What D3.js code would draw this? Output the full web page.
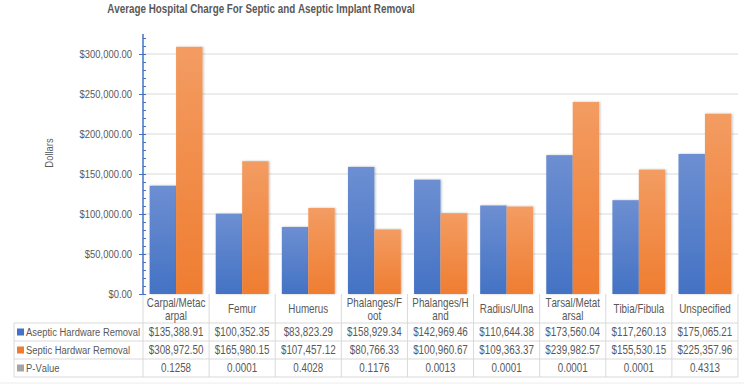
<!DOCTYPE html>
<html lang="en">
<head>
    <meta charset="UTF-8">
    <title>Average Hospital Charge</title>
    <script src="https://d3js.org/d3.v7.min.js"></script>
    <style>
        body { margin: 0; background: #fff; }
        text {
            font-family: "Liberation Sans", Arial, sans-serif;
            font-kerning: none;
            fill: #595959;
        }
    </style>
</head>
<body>
<script>
    const width = 744;
    const height = 385;

    const categories = ["Carpal/Metacarpal", "Femur", "Humerus", "Phalanges/Foot", "Phalanges/Hand",
        "Radius/Ulna", "Tarsal/Metatarsal", "Tibia/Fibula", "Unspecified"];
    const aseptic = [135388.91, 100352.35, 83823.29, 158929.34, 142969.46, 110644.38, 173560.04, 117260.13, 175065.21];
    const septic = [308972.50, 165980.15, 107457.12, 80766.33, 100960.67, 109363.37, 239982.57, 155530.15, 225357.96];
    const pValues = ["0.1258", "0.0001", "0.4028", "0.1176", "0.0013", "0.0001", "0.0001", "0.0001", "0.4313"];
    const seriesNames = ["Aseptic Hardware Removal", "Septic Hardwar Removal", "P-Value"];
    const yTicks = [0, 50000, 100000, 150000, 200000, 250000, 300000];

    const colors = ["#4472c4", "#ed7d31", "#a5a5a5"];
    const money = d3.format("$,.2f");
    const squeeze = 0.82;   // imitate a narrow face with the regular one

    // squeeze each text horizontally about its anchor so it reads like Arial Narrow
    function narrow(sel) {
        sel.each(function() {
            const t = d3.select(this);
            const ax = +t.attr("x") || 0;
            const tr = t.attr("transform") || "";
            t.attr("transform", `${tr} translate(${ax},0) scale(${squeeze},1) translate(${-ax},0)`);
        });
    }

    const svg = d3.select("body").append("svg")
            .attr("width", width).attr("height", height);

    const defs = svg.append("defs");
    [["gBlue", "#6d8fd2", "#4472c4"], ["gOrange", "#f39c62", "#ef7d31"]].forEach(([id, c1, c2]) => {
        const g = defs.append("linearGradient").attr("id", id)
                .attr("x1", 0).attr("y1", 0).attr("x2", 0).attr("y2", 1);
        g.append("stop").attr("offset", "0%").attr("stop-color", c1);
        g.append("stop").attr("offset", "100%").attr("stop-color", c2);
    });
    defs.append("filter").attr("id", "shadow")
            .attr("x", "-20%").attr("y", "-5%").attr("width", "140%").attr("height", "110%")
            .append("feDropShadow")
            .attr("dx", 1).attr("dy", 0).attr("stdDeviation", 1)
            .attr("flood-color", "#000").attr("flood-opacity", 0.25);

    const plotLeft = 143, plotRight = 738, plotTop = 34, plotBottom = 294;
    const tableLeft = 14;
    const rowY = [323, 341, 359, 377];

    const x = d3.scaleBand().domain(categories).range([plotLeft, plotRight]).paddingInner(0.2).paddingOuter(0.1);
    const xs = d3.scaleBand().domain([0, 1]).range([0, x.bandwidth()]);
    const y = d3.scaleLinear().domain([0, 325000]).range([plotBottom, plotTop]);

    // title
    svg.append("text")
            .attr("x", 261).attr("y", 13)
            .attr("text-anchor", "middle")
            .style("font-size", "12px").style("font-weight", "bold")
            .text("Average Hospital Charge For Septic and Aseptic Implant Removal")
            .call(narrow);

    // gridlines
    svg.append("g").selectAll("line")
            .data(yTicks.filter(d => d > 0))
            .enter().append("line")
            .attr("x1", plotLeft).attr("x2", plotRight)
            .attr("y1", d => y(d)).attr("y2", d => y(d))
            .style("stroke", "#d9d9d9").style("stroke-width", 1);

    // bars
    const groups = svg.append("g").selectAll("g")
            .data(categories)
            .enter().append("g")
            .attr("transform", d => `translate(${x(d)},0)`);
    groups.selectAll("rect")
            .data((d, i) => [aseptic[i], septic[i]])
            .enter().append("rect")
            .attr("x", (d, j) => xs(j))
            .attr("width", xs.bandwidth())
            .attr("y", d => y(d))
            .attr("height", d => y(0) - y(d))
            .attr("fill", (d, j) => j === 0 ? "url(#gBlue)" : "url(#gOrange)")
            .attr("filter", "url(#shadow)");

    // y axis: minor ticks inside, major ticks outside
    const yAxis = svg.append("g").attr("transform", `translate(${plotLeft},0)`);
    yAxis.call(d3.axisRight(y).tickValues(d3.range(0, 330000, 10000)).tickSize(3).tickFormat(""));
    yAxis.call(g => g.select(".domain").remove());
    yAxis.selectAll(".tick line").style("stroke", "#4472c4");
    yAxis.append("g").call(d3.axisLeft(y).tickValues(yTicks).tickSize(4).tickFormat("").tickSizeOuter(0))
            .call(g => g.select(".domain").remove())
            .selectAll(".tick line").style("stroke", "#4472c4");
    yAxis.append("line").attr("y1", plotTop).attr("y2", plotBottom + 0.5)
            .style("stroke", "#4472c4").style("stroke-width", 1.5);
    svg.append("g").selectAll("text")
            .data(yTicks)
            .enter().append("text")
            .attr("x", 132).attr("y", d => y(d)).attr("dy", "0.35em")
            .attr("text-anchor", "end")
            .style("font-size", "11.5px")
            .text(d => money(d))
            .call(narrow);

    svg.append("text")
            .attr("transform", `translate(53,153) rotate(-90)`)
            .attr("text-anchor", "middle")
            .style("font-size", "11.5px")
            .text("Dollars")
            .call(narrow);

    // data table
    const grid = svg.append("g").style("stroke", "#d9d9d9").style("stroke-width", 1);
    const step = x.step();
    const colEdges = d3.range(categories.length + 1).map(i => plotLeft + i * step);
    colEdges.forEach((cx, i) => {
        grid.append("line").attr("x1", cx).attr("x2", cx)
                .attr("y1", i === 0 ? plotBottom + 1 : plotBottom).attr("y2", rowY[3]);
    });
    grid.append("line").attr("x1", tableLeft).attr("x2", tableLeft).attr("y1", rowY[0]).attr("y2", rowY[3]);
    rowY.forEach(ry => {
        grid.append("line").attr("x1", tableLeft).attr("x2", plotRight).attr("y1", ry).attr("y2", ry);
    });
    svg.append("line").attr("x1", 0).attr("x2", width).attr("y1", 383).attr("y2", 383)
            .style("stroke", "#ececec");

    // category labels, wrapped to the column width
    const catG = svg.append("g");
    categories.forEach((d, i) => {
        const cx = colEdges[i] + step / 2;
        const maxW = step - 6.8;
        const probe = catG.append("text").style("font-size", "12px");
        const lines = [];
        let cur = "";
        for (const ch of d) {
            probe.text(cur + ch);
            if (probe.node().getComputedTextLength() * squeeze > maxW && cur) {
                lines.push(cur);
                cur = ch;
            } else {
                cur += ch;
            }
        }
        lines.push(cur);
        probe.remove();
        const y0 = lines.length === 1 ? 309 : 303;
        lines.forEach((ln, k) => {
            catG.append("text")
                    .attr("x", cx).attr("y", y0 + k * 13).attr("dy", "0.35em")
                    .attr("text-anchor", "middle")
                    .style("font-size", "12px")
                    .text(ln)
                    .call(narrow);
        });
    });

    const rows = [aseptic.map(money), septic.map(money), pValues];
    rows.forEach((vals, r) => {
        const cy = (rowY[r] + rowY[r + 1]) / 2;
        svg.append("rect")
                .attr("x", 17).attr("y", cy - 3.5).attr("width", 7).attr("height", 7)
                .attr("fill", colors[r]);
        svg.append("text")
                .attr("x", 26).attr("y", cy).attr("dy", "0.35em")
                .style("font-size", "11.5px")
                .text(seriesNames[r])
                .call(narrow);
        svg.append("g").selectAll("text")
                .data(vals)
                .enter().append("text")
                .attr("x", (d, i) => colEdges[i] + step / 2)
                .attr("y", cy).attr("dy", "0.35em")
                .attr("text-anchor", "middle")
                .style("font-size", "12px")
                .text(d => d)
                .call(narrow);
    });
</script>
</body>
</html>
